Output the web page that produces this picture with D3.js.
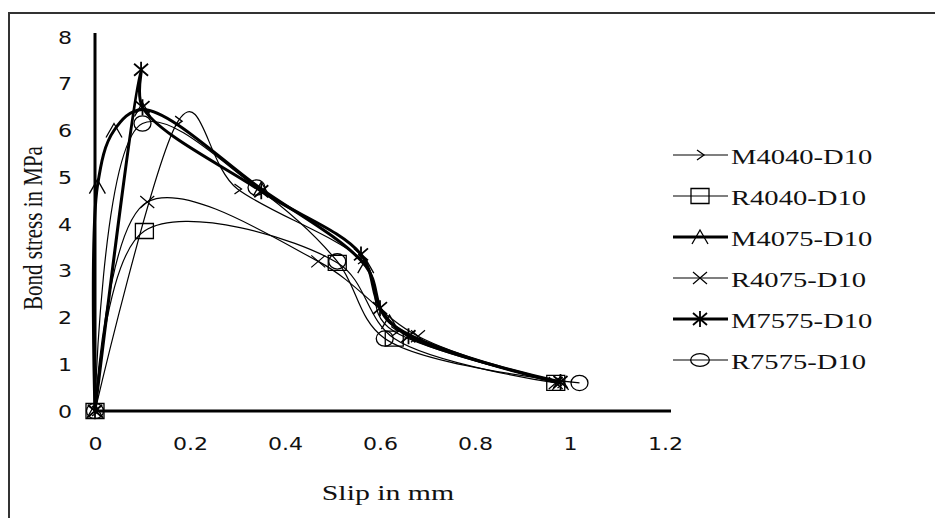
<!DOCTYPE html>
<html><head><meta charset="utf-8">
<script src="https://cdn.jsdelivr.net/npm/d3@7"></script>
<style>body{margin:0;background:#fff}svg{display:block}</style>
</head><body>
<svg id="c" width="935" height="518"></svg>
<script>
// ---- data ----
const seriesNames = ["M4040-D10","R4040-D10","M4075-D10","R4075-D10","M7575-D10","R7575-D10"];
const slipM4040   = [0, 0.175, 0.30, 0.56, 0.63, 0.98];
const stressM4040 = [0, 6.20, 4.75, 3.25, 1.70, 0.60];
const slipR4040   = [0, 0.104, 0.51, 0.63, 0.97];
const stressR4040 = [0, 3.85, 3.17, 1.55, 0.60];
const slipM4075   = [0, 0.005, 0.04, 0.10, 0.35, 0.57, 0.62, 0.98];
const stressM4075 = [0, 4.80, 6.00, 6.45, 4.75, 3.10, 1.90, 0.60];
const slipR4075   = [0, 0.11, 0.47, 0.68, 0.97];
const stressR4075 = [0, 4.47, 3.20, 1.60, 0.60];
const slipM7575   = [0, 0.097, 0.10, 0.35, 0.56, 0.60, 0.66, 0.98];
const stressM7575 = [0, 7.30, 6.50, 4.70, 3.35, 2.20, 1.60, 0.62];
const slipR7575   = [0, 0.10, 0.34, 0.51, 0.61, 1.02];
const stressR7575 = [0, 6.15, 4.78, 3.20, 1.55, 0.60];
const xTicks = [0, 0.2, 0.4, 0.6, 0.8, 1, 1.2];
const xTickLabels = ["0","0.2","0.4","0.6","0.8","1","1.2"];
const yTicks = [0,1,2,3,4,5,6,7,8];
const yTickLabels = ["0","1","2","3","4","5","6","7","8"];

const series = [
  {name: seriesNames[0], x: slipM4040, y: stressM4040, marker: "diamond",  w: 1.2, alpha: 0},
  {name: seriesNames[1], x: slipR4040, y: stressR4040, marker: "square",   w: 1.2, alpha: 0.5},
  {name: seriesNames[2], x: slipM4075, y: stressM4075, marker: "triangle", w: 3,   alpha: 0.5},
  {name: seriesNames[3], x: slipR4075, y: stressR4075, marker: "x",        w: 1.2, alpha: 0.5},
  {name: seriesNames[4], x: slipM7575, y: stressM7575, marker: "star",     w: 3,   alpha: 0.5},
  {name: seriesNames[5], x: slipR7575, y: stressR7575, marker: "circle",   w: 1.2, alpha: 0.5}
];

const SX = 1.3; // horizontal stretch of the original picture
const svg = d3.select("#c");
const xs = d3.scaleLinear().domain([0, 1.2]).range([95, 665]);
const ys = d3.scaleLinear().domain([0, 8]).range([411, 37]);

// outer frame
svg.append("path").attr("d", "M9,518 V13 H935").attr("fill","none")
   .attr("stroke","#333").attr("stroke-width",2);

// axes
const xAxis = d3.axisBottom(xs).tickValues(xTicks).tickSize(0).tickPadding(0)
  .tickFormat((d,i) => xTickLabels[i]);
const gx = svg.append("g").attr("transform", `translate(0,${ys(0)})`).call(xAxis);
gx.select(".domain").remove();
gx.selectAll(".tick text").attr("y", null).attr("dy", null)
  .attr("transform", `translate(0,39) scale(${SX},1)`)
  .attr("font-family","'DejaVu Sans', Verdana, sans-serif").attr("font-size",17).attr("fill","#111");

const yAxis = d3.axisLeft(ys).tickValues(yTicks).tickSize(0).tickPadding(0)
  .tickFormat((d,i) => yTickLabels[i]);
const gy = svg.append("g").attr("transform", `translate(${xs(0)},0)`).call(yAxis);
gy.select(".domain").remove();
gy.selectAll(".tick text").attr("x", null).attr("dy", null)
  .attr("text-anchor","end")
  .attr("transform", `translate(-23,6) scale(${SX},1)`)
  .attr("font-family","'DejaVu Sans', Verdana, sans-serif").attr("font-size",17).attr("fill","#111");

svg.append("line").attr("x1", xs(0)).attr("x2", xs(1.2) + 6).attr("y1", ys(0)).attr("y2", ys(0))
   .attr("stroke","#000").attr("stroke-width",3);
svg.append("line").attr("x1", xs(0)).attr("x2", xs(0)).attr("y1", ys(0)).attr("y2", ys(8) - 4)
   .attr("stroke","#000").attr("stroke-width",3);

// axis titles
svg.append("text").text("Slip in mm")
  .attr("transform", `translate(388,500) scale(1.42,1)`).attr("text-anchor","middle")
  .attr("font-family","'Liberation Serif','Times New Roman',serif").attr("font-size",21).attr("fill","#111");
svg.append("text").text("Bond stress in MPa")
  .attr("transform", `translate(42,228) rotate(-90) scale(1,${SX})`).attr("text-anchor","middle")
  .attr("font-family","'Liberation Serif','Times New Roman',serif").attr("font-size",21).attr("fill","#111");

// markers
function markerPath(type) {
  const p = d3.path();
  if (type === "square") { p.rect(-9, -7.5, 18, 15); }
  else if (type === "circle") { p.moveTo(8.5,0); p.arc(0,0,8.5,0,Math.PI*2); }
  else if (type === "x") { p.moveTo(-7,-6); p.lineTo(7,6); p.moveTo(-7,6); p.lineTo(7,-6); }
  else if (type === "star") { p.moveTo(-7,-6); p.lineTo(7,6); p.moveTo(-7,6); p.lineTo(7,-6); p.moveTo(0,-8); p.lineTo(0,8); }
  else if (type === "triangle") { p.moveTo(-8,7); p.lineTo(0,-7); p.lineTo(8,7); }
  else if (type === "diamond") { p.moveTo(-3,-5); p.lineTo(4,0); p.lineTo(-3,5); }
  return p.toString();
}
const markerWidth = {square:1.3, circle:1.3, x:1.2, star:1.8, triangle:1.3, diamond:1.3};
const markerScale = {square:[1,1], circle:[1,0.9], x:[1,1], star:[1,1], triangle:[1,1], diamond:[1,1]};
const legendScale = {square:[1,1], circle:[1.1,0.75], x:[1,1], star:[1,1], triangle:[1,1], diamond:[1,1]};

series.forEach(s => {
  const line = d3.line().curve(d3.curveCatmullRom.alpha(s.alpha));
  const pts = s.x.map((v,i) => [xs(v), ys(s.y[i])]);
  svg.append("path").attr("d", line(pts)).attr("fill","none")
    .attr("stroke","#000").attr("stroke-width", s.w).attr("stroke-linejoin","round");
});
series.forEach(s => {
  const sc = markerScale[s.marker];
  svg.append("g").selectAll("path").data(s.x.map((v,i) => [v, s.y[i]])).join("path")
    .attr("transform", d => `translate(${xs(d[0])},${ys(d[1])}) scale(${sc[0]},${sc[1]})`)
    .attr("d", markerPath(s.marker)).attr("fill","none").attr("stroke","#000")
    .attr("stroke-width", markerWidth[s.marker]).attr("vector-effect","non-scaling-stroke");
});

// legend
const lg = svg.append("g");
const rowY = d3.scaleLinear().domain([0, 5]).range([155, 360]);
series.forEach((s,i) => {
  const y = rowY(i);
  const g = lg.append("g").attr("transform", `translate(0,${y})`);
  g.append("line").attr("x1",673).attr("x2",728).attr("stroke","#000").attr("stroke-width", s.w);
  const sc = legendScale[s.marker];
  g.append("path").attr("d", markerPath(s.marker))
    .attr("transform", `translate(700,0) scale(${sc[0]},${sc[1]})`)
    .attr("fill","none").attr("stroke","#000").attr("stroke-width", markerWidth[s.marker])
    .attr("vector-effect","non-scaling-stroke");
  g.append("text").text(s.name).attr("transform", `translate(731,9) scale(${SX},1)`)
    .attr("font-family","'Liberation Serif','Times New Roman',serif").attr("font-size",22).attr("fill","#111");
});
</script>
</body></html>
